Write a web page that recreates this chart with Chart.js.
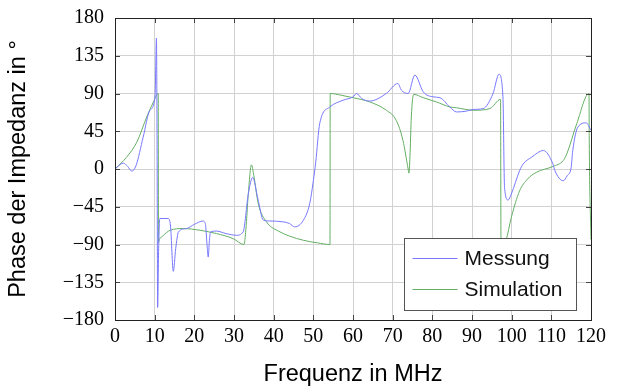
<!DOCTYPE html>
<html>
<head>
<meta charset="utf-8">
<script src="https://cdn.jsdelivr.net/npm/chart.js@4/dist/chart.umd.min.js"></script>
<style>
  body { margin: 0; background: #fff; }
  canvas { display: block; }
</style>
</head>
<body>
<canvas id="phaseChart" width="619" height="389"></canvas>
<script>
// Messung (measured phase), frequency in MHz / phase in degrees
const messFreq = [0, 2.1, 3.2, 4.2, 5.3, 7.1, 8.8, 10.1, 10.45, 10.6, 10.75, 11.0, 11.3, 13.4, 14.0, 14.7, 15.3, 16.0,
  18.0, 20.0, 22.2, 22.8, 23.2, 23.5, 23.8, 24.1, 25.6, 28.0, 30.6, 32.3, 33.6, 34.7, 36.0, 37.4, 39.0,
  42.4, 44.0, 45.3, 47.5, 49.1, 50.0, 50.6, 51.6, 54.2, 57.5, 60.0, 60.9, 62.2, 64.2, 68.4, 71.3, 72.2,
  73.9, 75.6, 77.7, 80.2, 81.9, 84.4, 86.1, 88.6, 90.3, 92.8, 95.3, 96.8, 97.8, 98.2, 99.1, 99.9, 102.0,
  102.9, 105.0, 108.0, 110.4, 110.9, 113.0, 114.0, 115.0, 115.4, 116.7, 118.8, 120.0];
const messPhase = [0, 7, 3, -2.5, 4, 38, 70, 87, 156, 40, -165, -95, -59, -59, -68, -122, -95, -75,
  -71, -66, -62, -66, -90, -105, -85, -75, -74, -77, -79, -75, -30, -10, -35, -61, -62,
  -63, -65, -69, -61, -41, -14, 8, 54, 74, 82, 86, 90, 84, 81, 90, 102, 94,
  90, 112, 92, 86, 85, 74, 68, 69, 71, 72, 90, 113, 86, -22, -37, -30, -2,
  6, 14, 22, 6, -2, -14, -8, 2, 22, 50, 55, 46];

// Simulation
const simFreq = [0, 2.9, 5.5, 8.0, 9.7, 10.9, 10.95, 11.2, 12.0, 13.9, 17.2, 21.4, 25.6, 29.8, 32.5, 33.0,
  33.6, 34.4, 35.0, 36.1, 38.2, 41.6, 44.0, 47.5, 51.0, 54.2, 54.25, 57.0, 60.0, 64.2, 68.4, 70.9, 72.6,
  73.9, 74.1, 74.4, 74.7, 75.3, 77.7, 81.0, 84.4, 86.1, 90.3, 94.5, 97.2, 97.3, 97.6, 98.6, 99.9,
  102.0, 104.0, 106.2, 110.4, 113.0, 113.9, 116.4, 119.5, 119.55, 120.0];
const simPhase = [0, 14, 32, 62, 80, 90, -88, -84, -80, -73, -71, -73, -77, -83, -90, -72,
  -30, 5, -8, -41, -63, -75, -80, -85, -88, -90, 90, 88, 85, 80, 70, 58, 34,
  0, -5, 20, 62, 89, 85, 80, 74, 73, 70, 72, 83, -80, -95, -85, -58,
  -26, -12, -4, 3, 10, 18, 54, 90, 40, -84];

const xTicks = { min: 0, max: 120, step: 10 };
const yTicks = { min: -180, max: 180, step: 45 };

const serif = "'Liberation Serif', 'DejaVu Serif', serif";
const sans = "'Liberation Sans', Arial, sans-serif";

function toPoints(xs, ys) {
  return xs.map((x, i) => ({ x: x, y: ys[i] }));
}

// frame around the plot with small inward ticks (pgfplots style)
const framePlugin = {
  id: 'frame',
  afterDatasetsDraw(chart) {
    const ctx = chart.ctx;
    const a = chart.chartArea;
    const xs = chart.scales.x, ys = chart.scales.y;
    ctx.save();
    ctx.strokeStyle = '#444';
    ctx.lineWidth = 1;
    ctx.beginPath();
    xs.ticks.forEach(t => {
      const px = Math.round(xs.getPixelForValue(t.value)) + 0.5;
      ctx.moveTo(px, a.bottom); ctx.lineTo(px, a.bottom - 5);
      ctx.moveTo(px, a.top); ctx.lineTo(px, a.top + 5);
    });
    ys.ticks.forEach(t => {
      const py = Math.round(ys.getPixelForValue(t.value)) + 0.5;
      ctx.moveTo(a.left, py); ctx.lineTo(a.left + 5, py);
      ctx.moveTo(a.right, py); ctx.lineTo(a.right - 5, py);
    });
    ctx.stroke();
    ctx.strokeStyle = '#222';
    ctx.strokeRect(Math.round(a.left) + 0.5, Math.round(a.top) + 0.5,
      Math.round(a.right - a.left), Math.round(a.bottom - a.top));
    ctx.restore();
  }
};

// legend box in the lower right corner
const legendBox = {
  id: 'legendBox',
  afterDraw(chart) {
    const ctx = chart.ctx;
    const a = chart.chartArea;
    const w = 172, h = 72;
    const left = Math.round(a.right - 15 - w) + 0.5;
    const top = Math.round(a.bottom - 10 - h) + 0.5;
    ctx.save();
    ctx.fillStyle = '#fff';
    ctx.fillRect(left, top, w, h);
    ctx.strokeStyle = '#555';
    ctx.lineWidth = 1;
    ctx.strokeRect(left, top, w, h);
    chart.data.datasets.forEach((ds, i) => {
      const y = top + 20 + i * 31;
      ctx.strokeStyle = ds.borderColor;
      ctx.beginPath();
      ctx.moveTo(left + 8, y);
      ctx.lineTo(left + 53, y);
      ctx.stroke();
      ctx.fillStyle = '#111';
      ctx.font = '21px ' + sans;
      ctx.textBaseline = 'middle';
      ctx.fillText(ds.label, left + 60, y + 1);
    });
    ctx.restore();
  }
};

new Chart(document.getElementById('phaseChart'), {
  type: 'line',
  data: {
    datasets: [
      {
        label: 'Messung',
        data: toPoints(messFreq, messPhase),
        borderColor: 'rgb(120,120,255)',
        borderWidth: 1,
        pointRadius: 0,
        cubicInterpolationMode: 'monotone',
        fill: false
      },
      {
        label: 'Simulation',
        data: toPoints(simFreq, simPhase),
        borderColor: 'rgb(100,175,100)',
        borderWidth: 1,
        pointRadius: 0,
        cubicInterpolationMode: 'monotone',
        fill: false
      }
    ]
  },
  options: {
    responsive: false,
    animation: false,
    devicePixelRatio: 1,
    layout: { padding: { left: 0, top: 18, right: 28, bottom: 0 } },
    plugins: { legend: { display: false }, tooltip: { enabled: false } },
    scales: {
      x: {
        type: 'linear',
        min: xTicks.min, max: xTicks.max,
        afterFit: s => { s.height = 69; s.paddingLeft = 0; s.paddingRight = 0; },
        ticks: { stepSize: xTicks.step, color: '#000', padding: 5, font: { family: serif, size: 20 } },
        grid: { color: '#d2d2d2', drawTicks: false },
        border: { display: false },
        title: { display: true, text: 'Frequenz in MHz', color: '#000', padding: 0, font: { family: sans, size: 23.5 } }
      },
      y: {
        type: 'linear',
        min: yTicks.min, max: yTicks.max,
        afterFit: s => { s.width = 115; s.paddingTop = 0; s.paddingBottom = 0; },
        ticks: {
          stepSize: yTicks.step, color: '#000', padding: 11, font: { family: serif, size: 20 },
          callback: v => String(v).replace('-', '\u2212')
        },
        grid: { color: '#d2d2d2', drawTicks: false },
        border: { display: false },
        title: { display: true, text: 'Phase der Impedanz in \u00b0', color: '#000', padding: 4, font: { family: sans, size: 23.5 } }
      }
    }
  },
  plugins: [framePlugin, legendBox]
});
</script>
</body>
</html>
